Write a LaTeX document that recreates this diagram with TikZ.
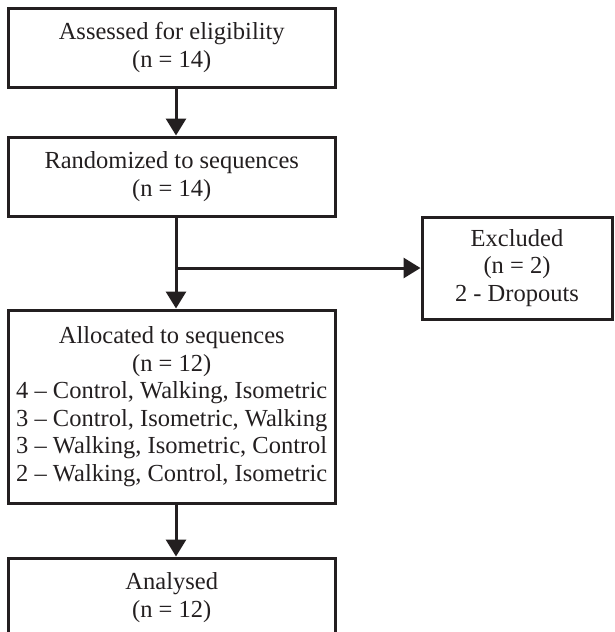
\documentclass[tikz,border=0pt]{standalone}
\usepackage{fontspec}
\setmainfont{Liberation Serif}
\usetikzlibrary{arrows.meta}
\definecolor{ink}{HTML}{231F20}
\begin{document}
\begin{tikzpicture}[x=1pt,y=-1pt,
  box/.style={draw=ink, line width=3pt, inner sep=0pt, align=center,
    font=\fontsize{24.5}{27.5}\selectfont, text=ink},
  conn/.style={line width=3pt, draw=ink, -{Triangle[width=20pt,length=17pt]}}]
\useasboundingbox (0,0) rectangle (614,632);
\node[box, minimum width=326.5pt, minimum height=79pt] (assess) at (171.75,47.5)
  {Assessed for eligibility\\(n = 14)};
\node[box, minimum width=326.5pt, minimum height=79pt] (rand) at (171.75,176.5)
  {Randomized to sequences\\(n = 14)};
\node[box, minimum width=326.5pt, minimum height=193pt] (alloc) at (171.75,406.5)
  {Allocated to sequences\\(n = 12)\\4 -- Control, Walking, Isometric\\3 -- Control, Isometric, Walking\\3 -- Walking, Isometric, Control\\2 -- Walking, Control, Isometric};
\node[box, minimum width=190pt, minimum height=102pt] (excl) at (517,268)
  {Excluded\\(n = 2)\\2 - Dropouts};
\node[box, minimum width=326.5pt, minimum height=79pt] (anal) at (171.75,597.5)
  {Analysed\\(n = 12)};
\coordinate (ax) at (176,0);
\draw[conn] (assess.south -| ax) -- (rand.north -| ax);
\draw[conn] (rand.south -| ax) -- (alloc.north -| ax);
\draw[conn] (excl.west -| ax) -- (excl.west);
\draw[conn] (alloc.south -| ax) -- (anal.north -| ax);
\end{tikzpicture}
\end{document}
